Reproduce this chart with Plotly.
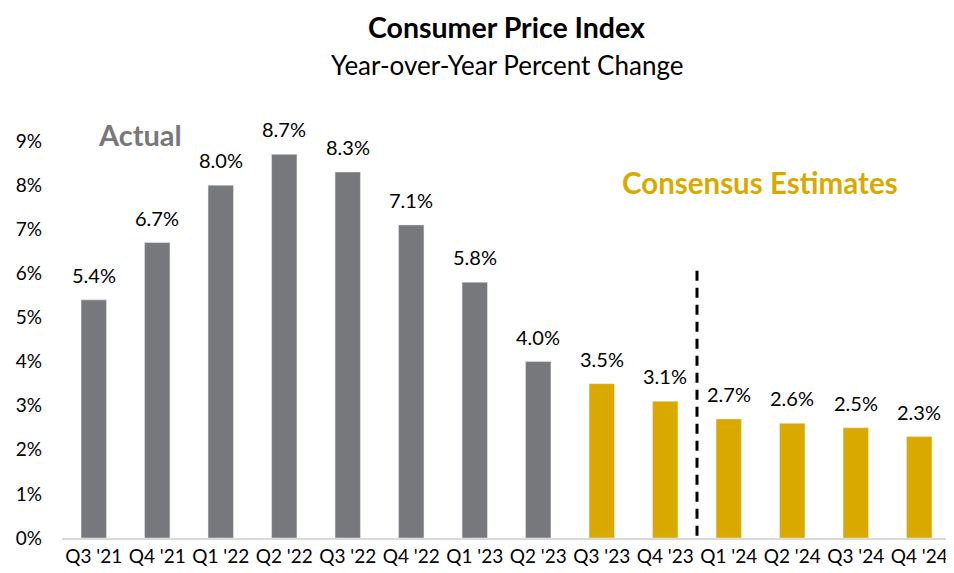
import plotly.graph_objects as go

categories = ["Q3 '21", "Q4 '21", "Q1 '22", "Q2 '22", "Q3 '22", "Q4 '22", "Q1 '23",
              "Q2 '23", "Q3 '23", "Q4 '23", "Q1 '24", "Q2 '24", "Q3 '24", "Q4 '24"]
actual_cats = categories[:8]
actual_vals = [5.4, 6.7, 8.0, 8.7, 8.3, 7.1, 5.8, 4.0]
estimate_cats = categories[8:]
estimate_vals = [3.5, 3.1, 2.7, 2.6, 2.5, 2.3]
ytick_vals = [0, 1, 2, 3, 4, 5, 6, 7, 8, 9]
ytick_text = ["0%", "1%", "2%", "3%", "4%", "5%", "6%", "7%", "8%", "9%"]

GRAY = "#77787B"
GOLD = "#DAA900"
FONT = "Lato"

fig = go.Figure()
fig.add_trace(go.Bar(x=actual_cats, y=actual_vals, marker_color=GRAY, width=0.4,
                     hoverinfo="skip"))
fig.add_trace(go.Bar(x=estimate_cats, y=estimate_vals, marker_color=GOLD, width=0.4,
                     hoverinfo="skip"))

for c, v in zip(actual_cats + estimate_cats, actual_vals + estimate_vals):
    fig.add_annotation(x=c, y=v, text=f"{v:.1f}%", showarrow=False, yanchor="bottom",
                       yshift=11, font=dict(family=FONT, size=20, color="#000000"))

fig.add_annotation(xref="paper", yref="paper", x=0.0877, y=0.914, text="<b>Actual</b>",
                   showarrow=False, xanchor="center", yanchor="middle",
                   font=dict(family=FONT, size=29, color=GRAY))
fig.add_annotation(xref="paper", yref="paper", x=0.7846, y=0.805, text="<b>Consensus Estimates</b>",
                   showarrow=False, xanchor="center", yanchor="middle",
                   font=dict(family=FONT, size=29.5, color=GOLD))

# titles
fig.add_annotation(xref="paper", yref="paper", x=0.5, y=1, yshift=89, text="<b>Consumer Price Index</b>",
                   showarrow=False, xanchor="center", yanchor="top",
                   font=dict(family=FONT, size=28.5, color="#000000"))
fig.add_annotation(xref="paper", yref="paper", x=0.5, y=1, yshift=32, text="Year-over-Year Percent Change",
                   showarrow=False, xanchor="center", yanchor="middle",
                   font=dict(family=FONT, size=26, color="#000000"))

fig.add_shape(type="line", xref="x", yref="y", x0=9.5, x1=9.5, y0=0.05, y1=6.2,
              line=dict(color="#000000", width=3, dash="10px,7px"))

fig.update_layout(
    width=946, height=565,
    margin=dict(l=54, r=3, t=89, b=35),
    paper_bgcolor="white", plot_bgcolor="white",
    barmode="overlay", showlegend=False,
    font=dict(family=FONT, color="#000000"),
)
fig.update_xaxes(type="category", categoryorder="array", categoryarray=categories,
                 showline=True, linecolor="#D9D9D9", linewidth=1.5, ticks="",
                 tickfont=dict(family=FONT, size=19, color="#000000"), showgrid=False)
fig.update_yaxes(range=[0, 10], tickvals=ytick_vals, ticktext=ytick_text,
                 showgrid=False, zeroline=False, ticks="", ticklabelstandoff=19,
                 tickfont=dict(family=FONT, size=19, color="#000000"))

fig.write_html("out.html")
